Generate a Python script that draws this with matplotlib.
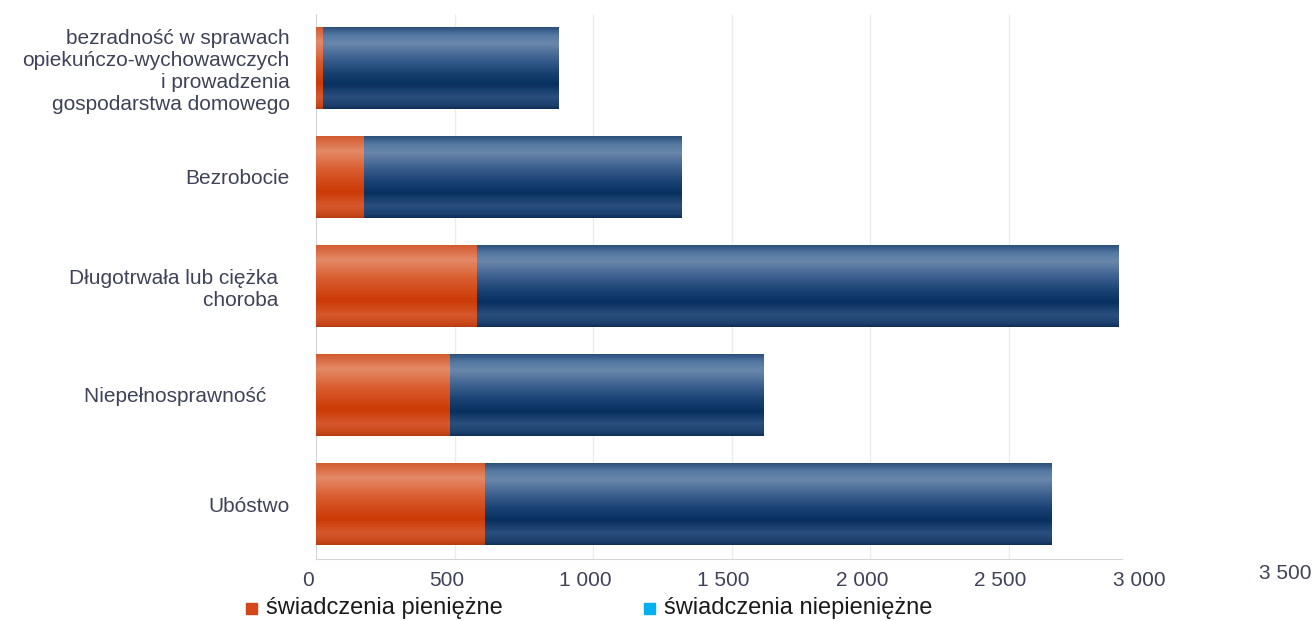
import matplotlib
matplotlib.use("Agg")
import matplotlib.pyplot as plt
import matplotlib.transforms as mtransforms
import numpy as np
from matplotlib.colors import LinearSegmentedColormap
from matplotlib.patches import Rectangle

plt.rcParams["font.family"] = ["Liberation Sans", "DejaVu Sans"]

# ── Data ──────────────────────────────────────────────────────────────────────
categories = [
    "bezradność w sprawach\nopiekuńczo-wychowawczych\ni prowadzenia\ngospodarstwa domowego",
    "Bezrobocie",
    "Długotrwała lub ciężka  \nchoroba  ",
    "Niepełnosprawność    ",
    "Ubóstwo",
]
pieniezne    = [25, 175, 580, 485, 610]
niepieniezne = [850, 1145, 2315, 1130, 2045]
xticks       = [0, 500, 1000, 1500, 2000, 2500, 3000]
series_names = ["świadczenia pieniężne", "świadczenia niepieniężne"]

LABEL_COL = "#3f4359"
GRID_COL  = "#ececec"

# vertical "glossy" gradients, top -> bottom
blue_cmap = LinearSegmentedColormap.from_list("blue", [
    (0.00, "#2c4f7c"), (0.10, "#557aa3"), (0.20, "#6a87ab"), (0.38, "#3d6190"),
    (0.55, "#1a4373"), (0.70, "#08305f"), (0.85, "#2a4f7e"), (0.95, "#1d416e"),
    (1.00, "#0e2f5a")])
orange_cmap = LinearSegmentedColormap.from_list("orange", [
    (0.00, "#d25a2e"), (0.18, "#e48a68"), (0.40, "#da5e30"), (0.68, "#cc3a06"),
    (0.85, "#d6582c"), (0.95, "#c84a1c"), (1.00, "#b83a10")])

fig = plt.figure(figsize=(13.13, 6.21), dpi=100)
W, H = 1313, 621
ax = fig.add_axes([316 / W, (H - 558.5) / H, (1285.5 - 316) / W, 545 / H])

y = np.arange(len(categories))
bh = 0.745
b1 = ax.barh(y, pieniezne, height=bh, color="#d24614", edgecolor="none", zorder=2)
b2 = ax.barh(y, niepieniezne, left=pieniezne, height=bh, color="#0b3466",
             edgecolor="none", zorder=2)

grad = np.linspace(0, 1, 256).reshape(-1, 1)
for bars, cmap in ((b1, orange_cmap), (b2, blue_cmap)):
    for p in bars:
        x0, y0 = p.get_x(), p.get_y()
        w, h = p.get_width(), p.get_height()
        im = ax.imshow(grad, cmap=cmap, aspect="auto", zorder=3,
                       extent=(x0, x0 + w, y0 + h, y0), interpolation="bilinear")
        im.set_clip_path(p)

ax.set_xlim(0, 3500)
ax.set_ylim(len(categories) - 0.5, -0.5)

# light vertical gridlines
ax.vlines(xticks[1:-1], -0.5, len(categories) - 0.5, color=GRID_COL, lw=1, zorder=1)

for s in ("top", "right"):
    ax.spines[s].set_visible(False)
ax.spines["left"].set_color("#d4d4d4")
ax.spines["bottom"].set_color("#d4d4d4")
ax.spines["bottom"].set_bounds(0, 2910)

ax.set_yticks(y)
ax.set_yticklabels(categories, fontsize=15, color=LABEL_COL, linespacing=1.2)
ax.tick_params(axis="y", length=0, pad=19)

ax.set_xticks(xticks)
ax.set_xticklabels([f"{v:,}".replace(",", " ") for v in xticks],
                   fontsize=15, color=LABEL_COL)
ax.tick_params(axis="x", length=0, pad=9)
shift = mtransforms.ScaledTranslation(-8 / 100, 0, fig.dpi_scale_trans)
for lab in ax.get_xticklabels():
    lab.set_transform(lab.get_transform() + shift)

# stray axis label at 3 500, sitting a bit higher
ax.text(3500, -0.01, "3 500", transform=ax.get_xaxis_transform(), ha="center",
        va="top", fontsize=15, color=LABEL_COL, clip_on=False)

# ── Legend ────────────────────────────────────────────────────────────────────
legend_items = [(246, "#d2461a", series_names[0]), (644, "#00b0f0", series_names[1])]
for px, col, name in legend_items:
    fig.patches.append(Rectangle((px / W, (H - 614) / H), 11 / W, 11 / H,
                                 transform=fig.transFigure, color=col))
    fig.text((px + 20) / W, (H - 608) / H, name, fontsize=17, color="#1a1a1a",
             va="center", ha="left")

fig.savefig("out.png", dpi=100)
